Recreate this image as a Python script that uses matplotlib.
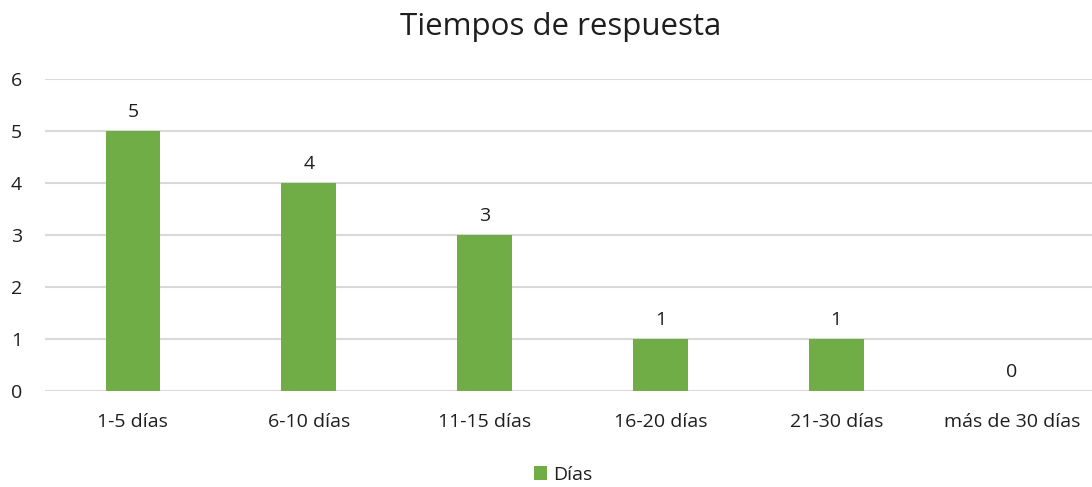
import matplotlib.pyplot as plt

plt.rcParams['font.family'] = ['Open Sans', 'DejaVu Sans']

categorias = ['1-5 días', '6-10 días', '11-15 días', '16-20 días', '21-30 días', 'más de 30 días']
dias = [5, 4, 3, 1, 1, 0]

verde = '#70AD47'
texto = '#1e1e1e'

fig = plt.figure(figsize=(10.92, 4.87), dpi=100)
# plot area as in the original (right edge runs slightly past the figure)
ax = fig.add_axes([45 / 1092, (487 - 391) / 487, 1055 / 1092, 312 / 487])

x = range(len(categorias))
barras = ax.bar(x, dias, width=0.31, color=verde, zorder=2, label='Días')

for xi, v in zip(x, dias):
    ax.text(xi, v + 0.2, str(v), ha='center', va='bottom', fontsize=14, color=texto)

ax.set_xlim(-0.5, 5.5)
ax.set_ylim(0, 6)
ax.set_yticks(range(7))
ax.set_xticks(list(x))
ax.set_xticklabels(categorias)
ax.tick_params(axis='both', length=0, labelsize=14, colors=texto)
ax.tick_params(axis='x', pad=16)
ax.tick_params(axis='y', pad=24.5)
for lbl in ax.get_yticklabels():
    lbl.set_horizontalalignment('left')
ax.grid(axis='y', color='#D9D9D9', linewidth=1.5, zorder=0)
for s in ax.spines.values():
    s.set_visible(False)

fig.text(561 / 1092, 1 - 27 / 487, 'Tiempos de respuesta', ha='center', va='center',
         fontsize=22.5, color=texto)

fig.legend(handles=[barras], labels=['Días'], loc='center', bbox_to_anchor=(563 / 1092, 1 - 475 / 487),
           frameon=False, fontsize=14, handlelength=0.7, handleheight=0.7, handletextpad=0.3,
           labelcolor=texto)

fig.savefig('out.png', dpi=100)
